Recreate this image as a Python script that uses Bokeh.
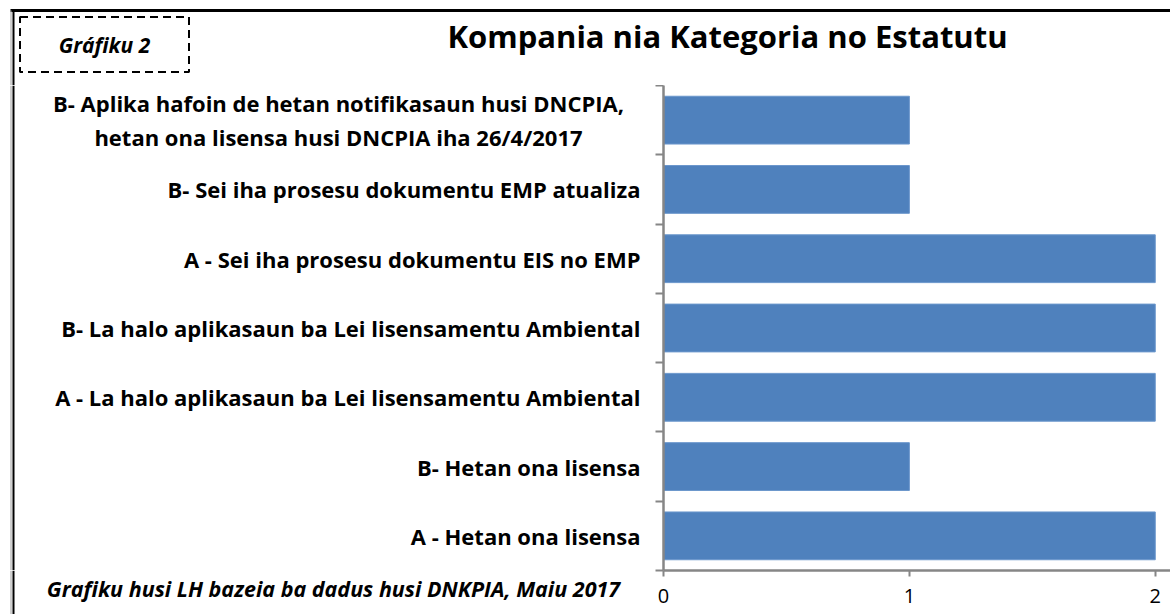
from bokeh.plotting import figure
from bokeh.layouts import column, row
from bokeh.models import FixedTicker, Range1d
from bokeh.core.properties import value
from bokeh.embed import file_html
from bokeh.resources import INLINE

# ---- data (bottom to top) ----
categories = [
    "A - Hetan ona lisensa",
    "B- Hetan ona lisensa",
    "A - La halo aplikasaun ba Lei lisensamentu Ambiental",
    "B- La halo aplikasaun ba Lei lisensamentu Ambiental",
    "A - Sei iha prosesu dokumentu EIS no EMP",
    "B- Sei iha prosesu dokumentu EMP atualiza",
    "B- Aplika hafoin de hetan notifikasaun husi DNCPIA,\nhetan ona lisensa husi DNCPIA iha 26/4/2017",
]
values = [2, 1, 2, 2, 2, 1, 1]
x_ticks = [0, 1, 2]
title_text = "Kompania nia Kategoria no Estatutu"
badge_text = "Gráfiku 2"
source_text = "Grafiku husi LH bazeia ba dadus husi DNKPIA, Maiu 2017"

FONT = "Open Sans"
BAR = "#4F81BD"
AXIS = "#868686"

W, H = 1170, 614
FL, FT, FB = 663, 85, 570     # frame left / top / bottom on the page
LEFT_W = FL - 10              # width of the label column

n = len(categories)
centers = [i + 0.5 for i in range(n)]
y_range = Range1d(0, n)


def blank(width, height, x_range, yr):
    f = figure(width=width, height=height, output_backend="svg", toolbar_location=None,
               x_range=x_range, y_range=yr, x_axis_location=None, y_axis_location=None,
               min_border=0, min_border_left=0, min_border_right=0,
               min_border_top=0, min_border_bottom=0)
    f.outline_line_color = None
    f.grid.grid_line_color = None
    f.background_fill_color = "white"
    f.border_fill_color = "white"
    return f


def frame_lines(f, y0, y1):
    f.segment(x0=[10.5, 13], y0=[y0, y0], x1=[10.5, 13], y1=[y1, y1],
              line_color=["#a0a0a0", "black"], line_width=[1, 2])


# ---------- top strip: title, badge, frame top ----------
top = blank(W, FT, Range1d(0, W), Range1d(FT, 0))
top.segment(x0=[10], y0=[10], x1=[W], y1=[10], line_color="black", line_width=3)
frame_lines(top, 10, FT)
top.rect(x=[104], y=[44], width=169, height=55, fill_color=None,
         line_color="black", line_width=2, line_dash="8 5")
top.text(x=[104], y=[44], text=[badge_text], text_font=value(FONT),
         text_font_style="bold italic", text_font_size="21px",
         text_align="center", text_baseline="middle", text_color="black")
top.text(x=[727], y=[35], text=[title_text], text_font=value(FONT),
         text_font_style="bold", text_font_size="31px",
         text_align="center", text_baseline="middle", text_color="black")

# ---------- category labels (share the bar chart's y scale) ----------
labels = blank(LEFT_W, FB - FT, Range1d(0, LEFT_W), y_range)
frame_lines(labels, 0, n)
labels.text(x=[640] * (n - 1), y=centers[:-1], text=categories[:-1], text_font=value(FONT),
            text_font_style="bold", text_font_size="22px", text_align="right",
            text_baseline="middle", text_color="black")
labels.text(x=[338], y=centers[-1:], text=categories[-1:], text_font=value(FONT),
            text_font_style="bold", text_font_size="22px", text_align="center",
            text_baseline="middle", text_color="black", text_line_height=1.12)

# ---------- footnote strip ----------
foot = blank(LEFT_W, H - FB, Range1d(0, LEFT_W), Range1d(H - FB, 0))
frame_lines(foot, 0, H - FB)
foot.text(x=[333], y=[18], text=[source_text], text_font=value(FONT),
          text_font_style="bold italic", text_font_size="21.5px",
          text_align="center", text_baseline="middle", text_color="black")

# ---------- bar chart ----------
p = figure(width=W - LEFT_W, height=H - FT, output_backend="svg", toolbar_location=None,
           x_range=Range1d(0, 2.062), y_range=y_range,
           min_border_left=FL - LEFT_W, min_border_right=0, min_border_top=0,
           min_border_bottom=H - FB)
p.background_fill_color = "white"
p.border_fill_color = "white"
p.outline_line_color = None
p.grid.grid_line_color = None

p.hbar(y=centers, left=0, right=values, height=0.69,
       fill_color=BAR, line_color="#6B97CC", line_width=1)

xa = p.xaxis[0]
xa.ticker = FixedTicker(ticks=x_ticks)
xa.axis_line_color = AXIS
xa.axis_line_width = 2.5
xa.major_tick_line_color = AXIS
xa.major_tick_line_width = 2
xa.major_tick_out = 6
xa.major_tick_in = 0
xa.minor_tick_line_color = None
xa.major_label_text_font = FONT
xa.major_label_text_font_size = "20px"
xa.major_label_text_color = "black"
xa.major_label_standoff = 12

ya = p.yaxis[0]
ya.ticker = FixedTicker(ticks=[], minor_ticks=list(range(n + 1)))
ya.axis_line_color = AXIS
ya.axis_line_width = 2.5
ya.major_tick_line_color = None
ya.major_tick_out = 0
ya.major_tick_in = 0
ya.minor_tick_line_color = AXIS
ya.minor_tick_line_width = 2
ya.minor_tick_out = 8
ya.minor_tick_in = 0
ya.major_label_standoff = 0
ya.major_label_text_font_size = "0px"

layout = column(top, row(column(labels, foot), p))
open("out.html", "w").write(file_html(layout, INLINE))
